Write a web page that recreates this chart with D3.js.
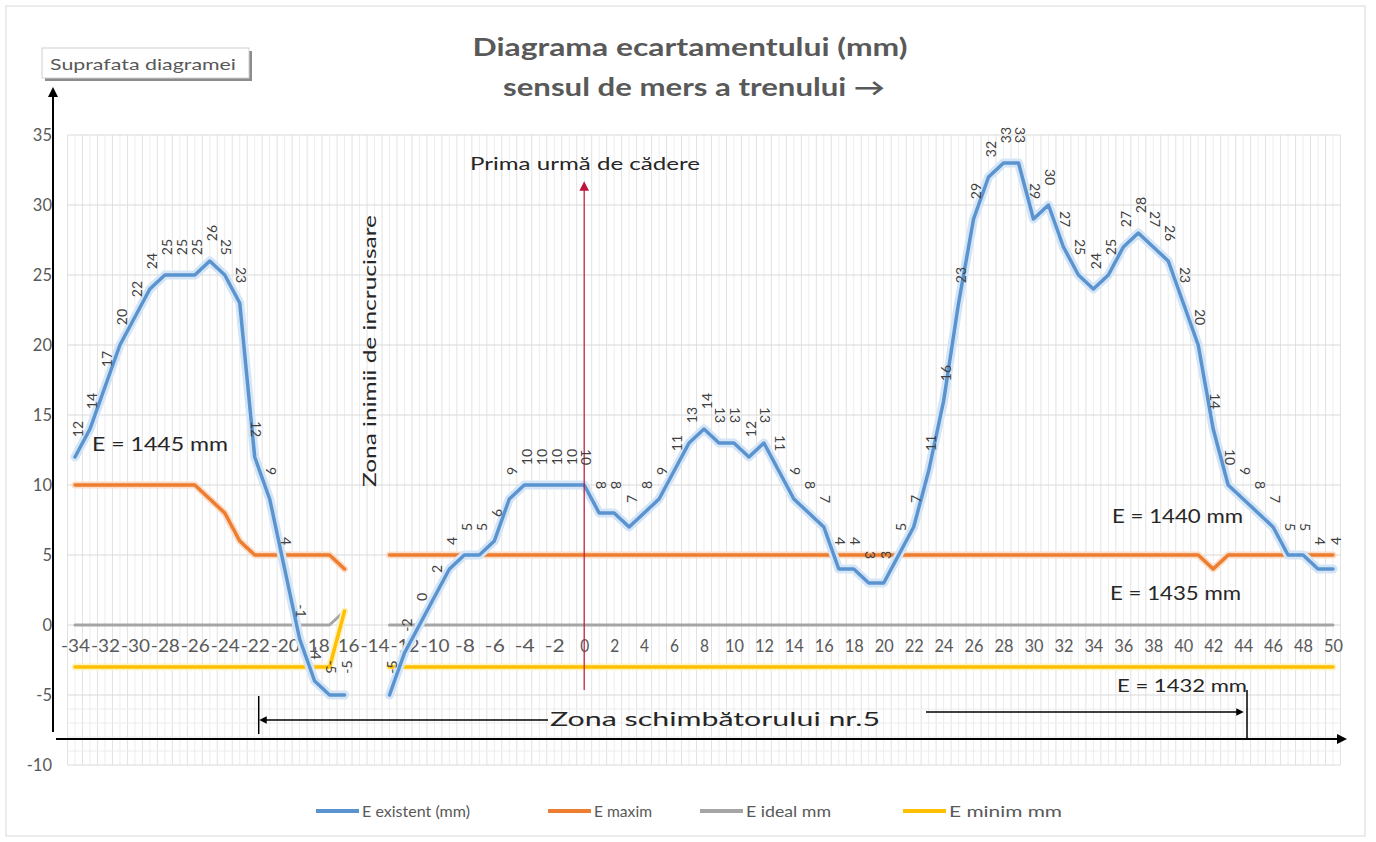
<!DOCTYPE html>
<html><head><meta charset="utf-8">
<script src="https://cdn.jsdelivr.net/npm/d3@7"></script>
<style>body{margin:0;background:#fff} svg{display:block} text{font-family:Lato,"Open Sans",sans-serif}</style>
</head><body><svg id="c" width="1376" height="842"></svg>
<script>
const categories = [-34,-33,-32,-31,-30,-29,-28,-27,-26,-25,-24,-23,-22,-21,-20,-19,-18,-17,-16,-15,-14,-13,-12,-11,-10,-9,-8,-7,-6,-5,-4,-3,-2,-1,0,1,2,3,4,5,6,7,8,9,10,11,12,13,14,15,16,17,18,19,20,21,22,23,24,25,26,27,28,29,30,31,32,33,34,35,36,37,38,39,40,41,42,43,44,45,46,47,48,49,50];
const xTickLabels = [-34,-32,-30,-28,-26,-24,-22,-20,-18,-16,-14,-12,-10,-8,-6,-4,-2,0,2,4,6,8,10,12,14,16,18,20,22,24,26,28,30,32,34,36,38,40,42,44,46,48,50];
const yTickLabels = [-10,-5,0,5,10,15,20,25,30,35];
const eExistent = [12,14,17,20,22,24,25,25,25,26,25,23,12,9,4,-1,-4,-5,-5,null,null,
  -5,-2,0,2,4,5,5,6,9,10,10,10,10,10,
  8,8,7,8,9,11,13,14,13,13,12,13,11,9,8,7,4,4,3,3,5,7,11,16,23,29,32,33,33,29,30,27,25,24,25,27,28,27,26,23,20,14,10,9,8,7,5,5,4,4];
const eMaxim = [10,10,10,10,10,10,10,10,10,9,8,6,5,5,5,5,5,5,4,null,null,
  5,5,5,5,5,5,5,5,5,5, 5,5,5,5,5,5,5,5,5,5, 5,5,5,5,5,5,5,5,5,5, 5,5,5,5,5,5,5,5,5,5, 5,5,5,5,5,5,5,5,5,5, 5,5,5,5,5,
  4,5,5,5,5,5,5,5,5];
const eIdeal = [0,0,0,0,0,0,0,0,0,0,0,0,0,0,0,0,0,0,1,null,null,
  0,0,0,0,0,0,0,0,0,0, 0,0,0,0,0,0,0,0,0,0, 0,0,0,0,0,0,0,0,0,0, 0,0,0,0,0,0,0,0,0,0, 0,0,0,0,0,0,0,0,0,0, 0,0,0,0,0,0,0,0,0,0, 0,0,0,0];
const eMinim = [-3,-3,-3,-3,-3,-3,-3,-3,-3,-3,-3,-3,-3,-3,-3,-3,-3,-3,1,null,null,
  -3,-3,-3,-3,-3,-3,-3,-3,-3,-3, -3,-3,-3,-3,-3,-3,-3,-3,-3,-3, -3,-3,-3,-3,-3,-3,-3,-3,-3,-3, -3,-3,-3,-3,-3,-3,-3,-3,-3,-3, -3,-3,-3,-3,-3,-3,-3,-3,-3,-3, -3,-3,-3,-3,-3,-3,-3,-3,-3,-3, -3,-3,-3,-3];
const seriesNames = ["E existent (mm)","E maxim","E ideal mm","E minim mm"];
const seriesColors = ["#5b93cf","#ed7d31","#a5a5a5","#ffc000"];

const svg = d3.select("#c");
const x = d3.scaleLinear().domain([-34,50]).range([75,1333]);
const y = d3.scaleLinear().domain([-10,35]).range([765,135]);
const half = (x(1)-x(0))/2;
const L = x(-34)-half, R = x(50)+half;

svg.append("rect").attr("x",6).attr("y",6).attr("width",1359).attr("height",830)
  .attr("fill","#fff").attr("stroke","#d9d9d9");

const g = svg.append("g");
categories.forEach(c=>{
  g.append("line").attr("x1",x(c)-half).attr("x2",x(c)-half).attr("y1",y(35)).attr("y2",y(-10)).attr("stroke","#e2e2e2");
  g.append("line").attr("x1",x(c)).attr("x2",x(c)).attr("y1",y(35)).attr("y2",y(-10)).attr("stroke","#ededed");
});
g.append("line").attr("x1",R).attr("x2",R).attr("y1",y(35)).attr("y2",y(-10)).attr("stroke","#e2e2e2");
[-6,-7,-8,-9].forEach(v=>g.append("line").attr("x1",L).attr("x2",R).attr("y1",y(v)).attr("y2",y(v)).attr("stroke","#ececec"));
yTickLabels.forEach(v=>{
  g.append("line").attr("x1",L).attr("x2",R).attr("y1",y(v)).attr("y2",y(v)).attr("stroke","#d9d9d9");
});

const fmt = d=>String(d);
const ya = svg.append("g").attr("transform",`translate(54,0)`).call(d3.axisLeft(y).tickValues(yTickLabels).tickFormat(fmt).tickSize(0).tickPadding(2));
ya.select(".domain").remove();
ya.attr("font-size",16.5);
ya.selectAll("text").attr("fill","#595959");

const xa = svg.append("g").attr("transform",`translate(0,${y(0)})`).call(d3.axisBottom(x).tickValues(xTickLabels).tickFormat(fmt).tickSize(0).tickPadding(15));
xa.select(".domain").remove();
xa.attr("font-size",17);
xa.selectAll("text").attr("fill","#595959").attr("textLength",d=>d<0?(d<=-10?29:20):(d>=10?19:9)).attr("lengthAdjust","spacingAndGlyphs");

const line = d3.line().defined(d=>d.v!=null).x(d=>x(d.c)).y(d=>y(d.v));
const mk = arr => categories.map((c,i)=>({c,v:arr[i]}));
const lw = svg.append("g").attr("fill","none").attr("stroke-linejoin","round").attr("stroke-linecap","round");
lw.append("path").attr("d",line(mk(eIdeal))).attr("stroke",seriesColors[2]).attr("stroke-width",3);
lw.append("path").attr("d",line(mk(eMinim))).attr("stroke","#fff2c4").attr("stroke-width",7);
lw.append("path").attr("d",line(mk(eMinim))).attr("stroke",seriesColors[3]).attr("stroke-width",3.5);
lw.append("path").attr("d",line(mk(eMaxim))).attr("stroke","#fbdcc6").attr("stroke-width",7);
lw.append("path").attr("d",line(mk(eMaxim))).attr("stroke",seriesColors[1]).attr("stroke-width",3.5);
lw.append("path").attr("d",line(mk(eExistent))).attr("stroke","#d3e5f6").attr("stroke-width",9);
lw.append("path").attr("d",line(mk(eExistent))).attr("stroke",seriesColors[0]).attr("stroke-width",3.5);

const defs = svg.append("defs");
defs.append("marker").attr("id","ar").attr("viewBox","0 0 10 10").attr("refX",5).attr("refY",5)
  .attr("markerWidth",8).attr("markerHeight",8).attr("orient","auto-start-reverse")
  .append("path").attr("d","M0,0L10,5L0,10z").attr("fill","#c0143c");
defs.append("marker").attr("id","ak").attr("viewBox","0 0 10 10").attr("refX",5).attr("refY",5)
  .attr("markerWidth",5).attr("markerHeight",5).attr("orient","auto-start-reverse")
  .append("path").attr("d","M0,0L10,5L0,10z").attr("fill","#000");
svg.append("line").attr("x1",x(0)).attr("x2",x(0)).attr("y1",690).attr("y2",186)
  .attr("stroke","#c0143c").attr("stroke-width",1.2).attr("marker-end","url(#ar)");

const lab = svg.append("g").attr("font-size",14).attr("fill","#404040");
categories.forEach((c,i)=>{
  const v = eExistent[i]; if(v==null) return;
  const p = i>0 && eExistent[i-1]!=null ? eExistent[i-1] : v;
  const n = i<categories.length-1 && eExistent[i+1]!=null ? eExistent[i+1] : v;
  const rot = (n-p) < 0 ? 90 : -90;
  const cx = x(c)+2, cy = y(v)-28;
  lab.append("text").attr("transform",`translate(${cx},${cy}) rotate(${rot})`)
    .attr("text-anchor","middle").attr("dominant-baseline","central").text(String(v));
});

svg.append("line").attr("x1",53).attr("x2",53).attr("y1",732).attr("y2",92).attr("stroke","#000").attr("stroke-width",2).attr("marker-end","url(#ak)");
svg.append("line").attr("x1",56).attr("x2",1342).attr("y1",739).attr("y2",739).attr("stroke","#000").attr("stroke-width",2).attr("marker-end","url(#ak)");

svg.append("line").attr("x1",x(-22)+4).attr("x2",x(-22)+4).attr("y1",696).attr("y2",734).attr("stroke","#000").attr("stroke-width",1.5);
svg.append("line").attr("x1",548).attr("x2",263).attr("y1",720).attr("y2",720).attr("stroke","#000").attr("stroke-width",1.5).attr("marker-end","url(#ak)");
svg.append("line").attr("x1",1247).attr("x2",1247).attr("y1",690).attr("y2",738).attr("stroke","#000").attr("stroke-width",1.5);
svg.append("line").attr("x1",926).attr("x2",1240).attr("y1",712).attr("y2",712).attr("stroke","#000").attr("stroke-width",1.5).attr("marker-end","url(#ak)");

const ann = (t,xx,yy,fs,len)=>{
  const e = svg.append("text").attr("x",xx).attr("y",yy).attr("font-size",fs).attr("fill","#262626").text(t);
  if(len) e.attr("textLength",len).attr("lengthAdjust","spacingAndGlyphs");
  return e;
};
ann("Zona schimbătorului nr.5",550,726,19,330);
ann("E = 1445 mm",92,451,20,136);
ann("E = 1440 mm",1112,523,20,131);
ann("E = 1435 mm",1110,600,20,131);
ann("E = 1432 mm",1117,692,18,130);
ann("Prima urmă de cădere",470,170,17,230);
svg.append("text").attr("transform","translate(376,351) rotate(-90)").attr("text-anchor","middle")
  .attr("font-size",18).attr("fill","#262626").attr("textLength",272).attr("lengthAdjust","spacingAndGlyphs")
  .text("Zona inimii de incrucisare");

svg.append("text").attr("x",690).attr("y",56).attr("text-anchor","middle").attr("font-size",24).attr("font-weight","bold")
  .attr("fill","#595959").attr("textLength",435).attr("lengthAdjust","spacingAndGlyphs").text("Diagrama ecartamentului (mm)");
svg.append("text").attr("x",694).attr("y",96).attr("text-anchor","middle").attr("font-size",24).attr("font-weight","bold")
  .attr("fill","#595959").attr("textLength",382).attr("lengthAdjust","spacingAndGlyphs").text("sensul de mers a trenului →");

svg.append("rect").attr("x",45).attr("y",51).attr("width",207).attr("height",30).attr("fill","#8c8c8c");
svg.append("rect").attr("x",42).attr("y",48).attr("width",207).attr("height",30).attr("fill","#fff").attr("stroke","#d0d0d0");
ann("Suprafata diagramei",50,70,15,186).attr("fill","#595959");

const legX = [316,548,700,903];
const legW = [108,58,85,113];
seriesNames.forEach((s,i)=>{
  svg.append("line").attr("x1",legX[i]).attr("x2",legX[i]+43).attr("y1",811).attr("y2",811).attr("stroke",seriesColors[i]).attr("stroke-width",4);
  svg.append("text").attr("x",legX[i]+46).attr("y",817).attr("font-size",16).attr("fill","#595959")
    .attr("textLength",legW[i]).attr("lengthAdjust","spacingAndGlyphs").text(s);
});
</script></body></html>
